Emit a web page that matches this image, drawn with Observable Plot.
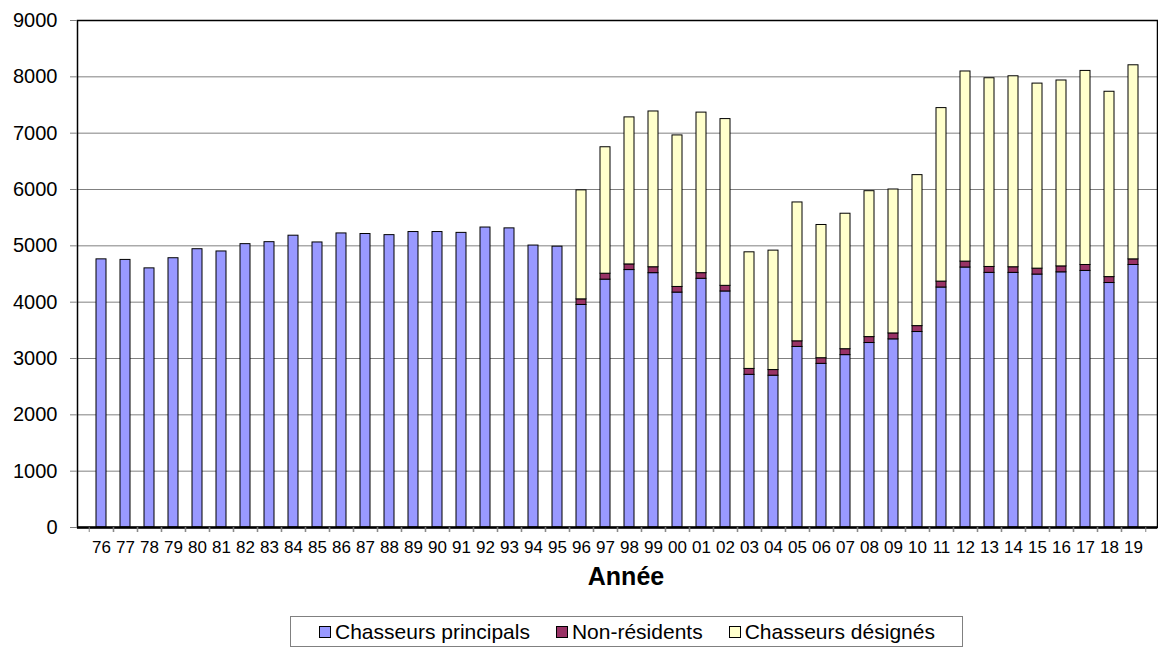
<!DOCTYPE html>
<html><head><meta charset="utf-8">
<script src="https://cdn.jsdelivr.net/npm/d3@7"></script>
<script src="https://cdn.jsdelivr.net/npm/@observablehq/plot@0.6"></script>
<style>
body{margin:0;background:#fff;font-family:"Liberation Sans",Arial,sans-serif;}
#wrap{position:relative;width:1158px;height:648px;overflow:hidden;}
#chart{position:absolute;left:0;top:0;}
#xlabel{position:absolute;top:561px;left:77px;width:1098px;text-align:center;font-weight:bold;font-size:25px;line-height:30px;}
#legend{position:absolute;top:616px;left:290px;width:673px;height:31px;border:1px solid #808080;box-sizing:border-box;display:flex;align-items:center;justify-content:flex-start;font-size:21px;padding-left:28px;white-space:nowrap;overflow:visible;}
#legend .item{display:flex;align-items:center;margin-right:26px;flex-shrink:0;white-space:nowrap;}
#legend .sw{width:10px;height:10px;border:1px solid #000;margin-right:4px;flex-shrink:0;}
</style>
</head><body>
<div id="wrap"><div id="chart"></div><div id="xlabel">Année</div><div id="legend"></div></div>
<script>
const years = ["76","77","78","79","80","81","82","83","84","85","86","87","88","89","90","91","92","93","94","95","96","97","98","99","00","01","02","03","04","05","06","07","08","09","10","11","12","13","14","15","16","17","18","19"];
const principaux = [4760,4750,4600,4780,4940,4900,5030,5065,5180,5060,5220,5210,5190,5245,5245,5230,5325,5310,5005,4985,
  3950,4400,4570,4515,4170,4415,4190,2710,2695,3205,2905,3060,3275,3340,3470,4260,4615,4520,4520,4490,4530,4555,4340,4660];
const nonResidents = [null,null,null,null,null,null,null,null,null,null,null,null,null,null,null,null,null,null,null,null,
  100,105,100,105,100,100,100,105,100,100,100,105,105,105,105,105,105,105,100,105,105,105,105,100];
const designes = [null,null,null,null,null,null,null,null,null,null,null,null,null,null,null,null,null,null,null,null,
  1935,2245,2610,2765,2690,2850,2960,2070,2120,2465,2365,2405,2590,2555,2680,3080,3375,3350,3390,3285,3300,3445,3290,3445];
const seriesNames = ["Chasseurs principals","Non-résidents","Chasseurs désignés"];
const seriesColors = ["#9999FF","#993366","#FFFFCC"];
const yTicks = [0,1000,2000,3000,4000,5000,6000,7000,8000,9000];

const cols = [principaux, nonResidents, designes];
const data = [];
years.forEach((yr, i) => {
  cols.forEach((c, k) => { if (c[i] != null) data.push({year: yr, series: seriesNames[k], value: c[i]}); });
});

const W = 1158, H = 560, mL = 77, mR = 1, mT = 20, mB = 33;
const half = (W - mL - mR) / years.length / 2;

const chart = Plot.plot({
  width: W, height: H,
  marginLeft: mL, marginRight: mR, marginTop: mT, marginBottom: mB,
  style: {fontFamily: '"Liberation Sans", Arial, sans-serif', background: "#fff", color: "#000"},
  x: {type: "band", domain: years, paddingInner: 0.58, paddingOuter: 0.29, align: 0.5},
  y: {domain: [0, 9000], nice: false},
  color: {domain: seriesNames, range: seriesColors},
  marks: [
    Plot.gridY(yTicks, {stroke: "#808080", strokeOpacity: 1, strokeWidth: 1}),
    Plot.barY(data, {x: "year", y: "value", fill: "series", stroke: "#000", strokeWidth: 1, order: seriesNames}),
    Plot.frame({stroke: "#000", strokeWidth: 1.5}),
    Plot.ruleY([0], {stroke: "#000", strokeWidth: 2.5}),
    Plot.axisY({ticks: yTicks, tickFormat: d => String(d), tickSize: 7, tickPadding: 13, fontSize: 20, stroke: "#808080", label: null}),
    Plot.axisX({tickSize: 0, tickPadding: 13, fontSize: 17, label: null}),
    Plot.axisX({tickSize: 5, tickFormat: () => "", dx: -half, stroke: "#808080", label: null}),
    Plot.axisX({tickSize: 5, tickFormat: () => "", dx: half, stroke: "#808080", label: null})
  ]
});
document.getElementById("chart").appendChild(chart);

const leg = document.getElementById("legend");
seriesNames.forEach((n, k) => {
  const it = document.createElement("div"); it.className = "item";
  const sw = document.createElement("div"); sw.className = "sw"; sw.style.background = seriesColors[k];
  const t = document.createElement("span"); t.textContent = n;
  it.appendChild(sw); it.appendChild(t); leg.appendChild(it);
});
</script>
</body></html>
